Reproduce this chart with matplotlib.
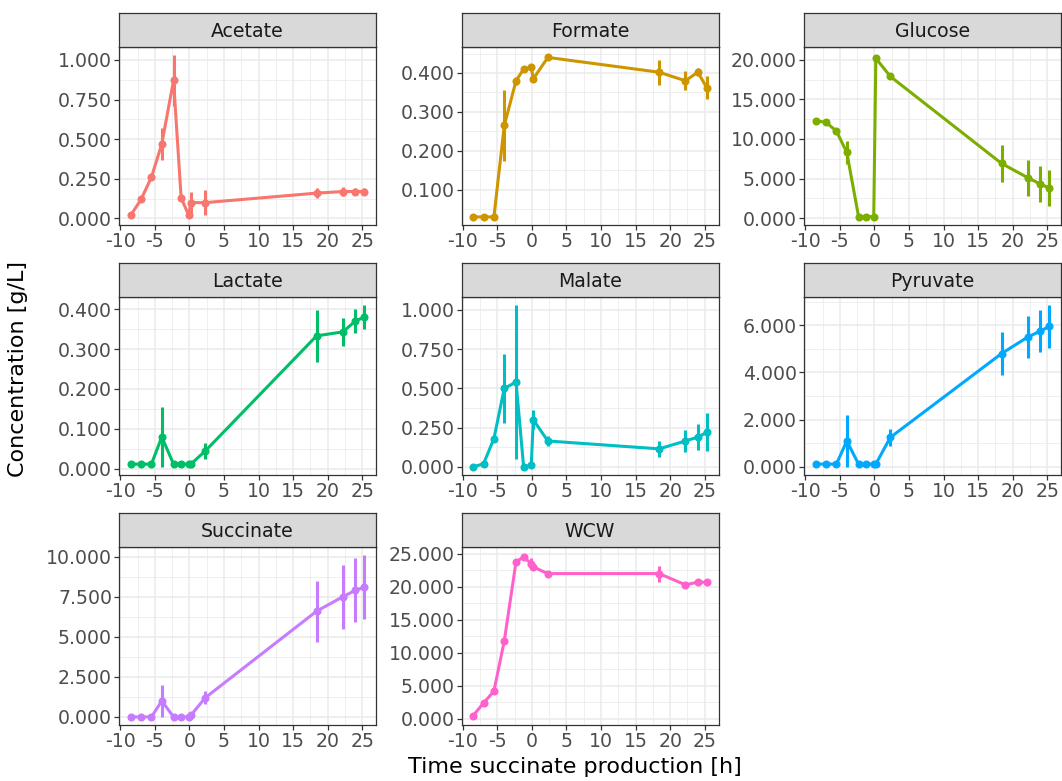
import matplotlib
matplotlib.use("Agg")
import matplotlib.pyplot as plt
from matplotlib.ticker import FormatStrFormatter, MultipleLocator
import numpy as np

plt.rcParams['font.family'] = ['DejaVu Sans']
plt.rcParams['axes.unicode_minus'] = False

time_h = [-8.5, -7.0, -5.5, -4.0, -2.3, -1.2, -0.1, 0.2, 2.3, 18.4, 22.2, 24.0, 25.3]

compounds = ["Acetate", "Formate", "Glucose", "Lactate", "Malate", "Pyruvate", "Succinate", "WCW"]
colors = ["#F8766D", "#CD9600", "#7CAE00", "#00BE67", "#00BFC4", "#00A9FF", "#C77CFF", "#FF61CC"]

acetate_mean = [0.02, 0.12, 0.26, 0.47, 0.87, 0.13, 0.02, 0.10, 0.10, 0.16, 0.17, 0.17, 0.17]
acetate_err = [0.0, 0.01, 0.02, 0.10, 0.16, 0.01, 0.01, 0.07, 0.08, 0.03, 0.03, 0.02, 0.02]

formate_mean = [0.030, 0.030, 0.030, 0.265, 0.380, 0.410, 0.415, 0.385, 0.440, 0.402, 0.380, 0.402, 0.362]
formate_err = [0.0, 0.0, 0.0, 0.090, 0.010, 0.008, 0.008, 0.008, 0.006, 0.032, 0.025, 0.010, 0.030]

glucose_mean = [12.3, 12.1, 11.0, 8.3, 0.2, 0.2, 0.2, 20.2, 17.9, 6.9, 5.1, 4.3, 3.8]
glucose_err = [0.2, 0.2, 0.3, 1.5, 0.05, 0.05, 0.05, 0.4, 0.2, 2.3, 2.3, 2.3, 2.3]

lactate_mean = [0.012, 0.012, 0.012, 0.080, 0.012, 0.012, 0.012, 0.012, 0.045, 0.333, 0.343, 0.370, 0.380]
lactate_err = [0.0, 0.0, 0.0, 0.075, 0.0, 0.0, 0.0, 0.0, 0.020, 0.065, 0.035, 0.030, 0.030]

malate_mean = [0.0, 0.02, 0.18, 0.50, 0.54, 0.0, 0.01, 0.30, 0.165, 0.115, 0.165, 0.19, 0.22]
malate_err = [0.0, 0.01, 0.02, 0.22, 0.49, 0.0, 0.01, 0.06, 0.03, 0.05, 0.07, 0.08, 0.12]

pyruvate_mean = [0.12, 0.12, 0.12, 1.10, 0.12, 0.12, 0.12, 0.12, 1.25, 4.80, 5.50, 5.75, 5.95]
pyruvate_err = [0.0, 0.0, 0.0, 1.10, 0.0, 0.0, 0.0, 0.0, 0.35, 0.90, 0.90, 0.90, 0.90]

succinate_mean = [0.0, 0.0, 0.0, 1.0, 0.0, 0.0, 0.0, 0.1, 1.2, 6.6, 7.5, 7.9, 8.1]
succinate_err = [0.0, 0.0, 0.0, 1.0, 0.0, 0.0, 0.0, 0.05, 0.4, 1.9, 2.0, 2.0, 2.0]

wcw_mean = [0.5, 2.4, 4.2, 11.8, 23.8, 24.5, 23.5, 23.0, 22.0, 22.0, 20.3, 20.7, 20.7]
wcw_err = [0.2, 0.3, 0.3, 0.4, 0.3, 0.3, 0.8, 0.5, 0.2, 1.2, 0.2, 0.5, 0.5]

means = [acetate_mean, formate_mean, glucose_mean, lactate_mean, malate_mean,
         pyruvate_mean, succinate_mean, wcw_mean]
errs = [acetate_err, formate_err, glucose_err, lactate_err, malate_err,
        pyruvate_err, succinate_err, wcw_err]
y_tick_steps = [0.25, 0.1, 5.0, 0.1, 0.25, 2.0, 2.5, 5.0]
x_ticks = [-10, -5, 0, 5, 10, 15, 20, 25]

W, H = 1062, 781
fig = plt.figure(figsize=(W / 100, H / 100), dpi=100)

col_left = [119, 461.5, 804]
panel_w = 257
row_strip_top = [13, 263, 513]
strip_h = 34
panel_h = 178

grid_major = "#EBEBEB"
tick_color = "#333333"
label_color = "#4D4D4D"
fs = 13.6

for i, name in enumerate(compounds):
    r, c = divmod(i, 3)
    x0 = col_left[c]
    top = row_strip_top[r] + strip_h
    ax = fig.add_axes([x0 / W, 1 - (top + panel_h) / H, panel_w / W, panel_h / H])
    sax = fig.add_axes([x0 / W, 1 - top / H, panel_w / W, strip_h / H])
    sax.set_xticks([]); sax.set_yticks([])
    sax.set_facecolor("#D9D9D9")
    for sp in sax.spines.values():
        sp.set_color("#333333"); sp.set_linewidth(0.9)
    sax.text(0.5, 0.47, name, ha="center", va="center", fontsize=fs, color="#1A1A1A",
             transform=sax.transAxes)

    t = np.array(time_h)
    m = np.array(means[i])
    e = np.array(errs[i])
    col = colors[i]
    ax.vlines(t, m - e, m + e, color=col, lw=2.2, zorder=3)
    ax.plot(t, m, color=col, lw=2.2, marker="o", ms=4.8, zorder=4)
    ax.margins(x=0.05, y=0.05)

    ax.xaxis.set_major_locator(plt.FixedLocator(x_ticks))
    ax.xaxis.set_minor_locator(MultipleLocator(2.5))
    ax.yaxis.set_major_locator(MultipleLocator(y_tick_steps[i]))
    ax.yaxis.set_minor_locator(MultipleLocator(y_tick_steps[i] / 2))
    ax.yaxis.set_major_formatter(FormatStrFormatter("%.3f"))
    ax.grid(True, which="major", color=grid_major, lw=1.1, zorder=0)
    ax.grid(True, which="minor", color=grid_major, lw=0.55, zorder=0)
    ax.set_axisbelow(True)
    ax.tick_params(which="major", length=3.5, width=0.9, color=tick_color,
                   labelsize=fs, labelcolor=label_color, pad=1.5)
    ax.tick_params(which="minor", length=0)
    for sp in ax.spines.values():
        sp.set_color("#333333"); sp.set_linewidth(0.9)

fig.text(18 / W, 1 - 369 / H, "Concentration [g/L]", rotation=90, ha="center", va="center",
         fontsize=16, color="black")
fig.text(575 / W, 1 - 767 / H, "Time succinate production [h]", ha="center", va="center",
         fontsize=16, color="black")

fig.savefig("out.png", dpi=100)
